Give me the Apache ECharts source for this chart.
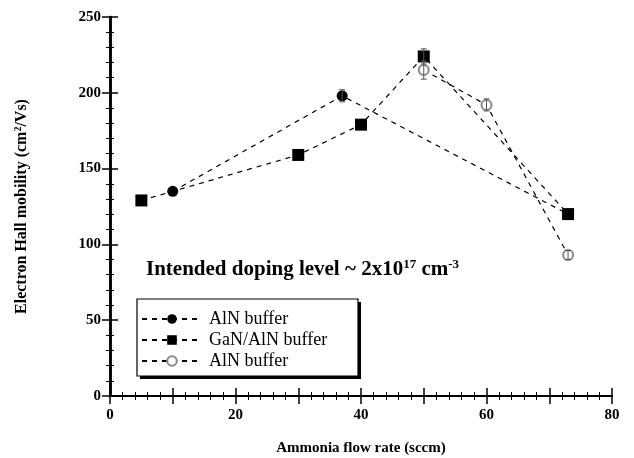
<!DOCTYPE html>
<html>
<head>
<meta charset="utf-8">
<script src="https://cdn.jsdelivr.net/npm/echarts@6/dist/echarts.min.js"></script>
<style>
	html,body{margin:0;padding:0;background:#fff;}
	#main{width:634px;height:458px;}
</style>
</head>
<body>
<div id="main"></div>
<script>
// ammonia flow (sccm) and mobility (cm2/Vs)
var alnX = [10, 37, 73];
var alnY = [135, 198, 120];
var alnErr = [0, 4, 0];
var ganX = [5, 30, 40, 50, 73];
var ganY = [129, 159, 179, 224, 120];
var ganErr = [0, 0, 0, 5, 0];
var aln2X = [50, 60, 73];
var aln2Y = [215, 192, 93];
var aln2Err = [6, 4, 3];
var names = ['AlN buffer', 'GaN/AlN buffer', 'AlN buffer '];

var font = '"Liberation Serif", "DejaVu Serif", serif';

function pairs(xs, ys){
	var out = [];
	for(var i in xs){
		out.push([xs[i], ys[i]]);
	}
	return out;
}

// error bars: [x, low, high]
var errData = [];
[[alnX,alnY,alnErr],[ganX,ganY,ganErr],[aln2X,aln2Y,aln2Err]].forEach(function(s){
	for(var i in s[0]){
		if(s[2][i]>0){
			errData.push([s[0][i], s[1][i]-s[2][i], s[1][i]+s[2][i]]);
		}
	}
});

var myChart = echarts.init(document.getElementById('main'));

var dashLine = {color:'#000', width:1.2, type:[5,5]};

// minor ticks follow axisTick.inside, so positive length = inside
var xTicks = {
	axisLine:{lineStyle:{color:'#000', width:2}},
	axisTick:{inside:true, length:8, lineStyle:{color:'#000', width:1.5}},
	minorTick:{show:true, splitNumber:5, length:4, lineStyle:{color:'#000'}},
	splitLine:{show:false}
};
var yTicks = {
	axisLine:{lineStyle:{color:'#000', width:2.5}},
	axisTick:{inside:true, length:8, lineStyle:{color:'#000', width:1.5}},
	minorTick:{show:true, splitNumber:5, length:4, lineStyle:{color:'#000'}},
	splitLine:{show:false}
};

var option = {
	animation:false,
	grid:{left:110, right:22, top:17, bottom:62, containLabel:false, outerBoundsMode:'none'},
	legend:{
		orient:'vertical',
		left:141, top:310,
		itemWidth:60, itemHeight:12, itemGap:3,
		padding:0,
		textStyle:{fontFamily:font, fontSize:18, color:'#000', padding:[0,0,0,2]},
		data:names,
		z:10
	},
	xAxis:[Object.assign({
		type:'value', min:0, max:80, interval:10,
		name:'Ammonia flow rate (sccm)', nameLocation:'middle', nameGap:45,
		nameTextStyle:{fontFamily:font, fontSize:15, fontWeight:'bold', color:'#000'},
		axisLabel:{fontFamily:font, fontSize:15, fontWeight:'bold', color:'#000', margin:12,
			formatter:function(v){return v%20==0 ? v : '';}}
	}, xTicks), Object.assign({
		type:'value', min:0, max:80, interval:10, position:'top',
		axisLabel:{show:false}
	}, xTicks)],
	yAxis:[Object.assign({
		type:'value', min:0, max:250, interval:50,
		name:'{a|Electron Hall mobility (cm}{s|2}{a|/Vs)}', nameLocation:'middle', nameGap:80,
		nameTextStyle:{rich:{
			a:{fontFamily:font, fontSize:16, fontWeight:'bold', color:'#000'},
			s:{fontFamily:font, fontSize:10, fontWeight:'bold', color:'#000', verticalAlign:'top', padding:[0,0,7,0]}
		}},
		axisLabel:{fontFamily:font, fontSize:15, fontWeight:'bold', color:'#000', margin:9}
	}, yTicks), Object.assign({
		type:'value', min:0, max:250, interval:50, position:'right',
		axisLabel:{show:false}
	}, yTicks)],
	graphic:[{
		type:'rect', z:5,
		shape:{x:140, y:302, width:221, height:77},
		style:{fill:'#000'}
	},{
		type:'rect', z:6,
		shape:{x:137, y:299, width:221, height:77},
		style:{fill:'#fff', stroke:'#000', lineWidth:1.2}
	},{
		type:'text', left:146, top:258,
		style:{
			text:'{a|Intended doping level ~ 2x10}{s|17}{a| cm}{s|-3}',
			rich:{
				a:{fontFamily:font, fontSize:21, fontWeight:'bold', fill:'#000'},
				s:{fontFamily:font, fontSize:13, fontWeight:'bold', fill:'#000', verticalAlign:'top', padding:[0,0,10,0]}
			}
		}
	}],
	series:[{
		name:names[0], type:'line', data:pairs(alnX, alnY),
		symbol:'circle', symbolSize:11,
		itemStyle:{color:'#000'}, lineStyle:dashLine, z:3
	},{
		name:names[1], type:'line', data:pairs(ganX, ganY),
		symbol:'rect', symbolSize:12,
		itemStyle:{color:'#000'}, lineStyle:dashLine, z:4
	},{
		name:names[2], type:'line', data:pairs(aln2X, aln2Y),
		symbol:'emptyCircle', symbolSize:10,
		itemStyle:{color:'#888', borderColor:'#888', borderWidth:1}, lineStyle:dashLine, z:5
	},{
		type:'custom', data:errData, z:6, silent:true,
		renderItem:function(params, api){
			var lo = api.coord([api.value(0), api.value(1)]);
			var hi = api.coord([api.value(0), api.value(2)]);
			var w = 3;
			var st = {stroke:'#555', lineWidth:1};
			return {type:'group', children:[
				{type:'line', shape:{x1:lo[0], y1:lo[1], x2:hi[0], y2:hi[1]}, style:st},
				{type:'line', shape:{x1:lo[0]-w, y1:lo[1], x2:lo[0]+w, y2:lo[1]}, style:st},
				{type:'line', shape:{x1:hi[0]-w, y1:hi[1], x2:hi[0]+w, y2:hi[1]}, style:st}
			]};
		}
	}]
};

myChart.setOption(option, true);
</script>
</body>
</html>
